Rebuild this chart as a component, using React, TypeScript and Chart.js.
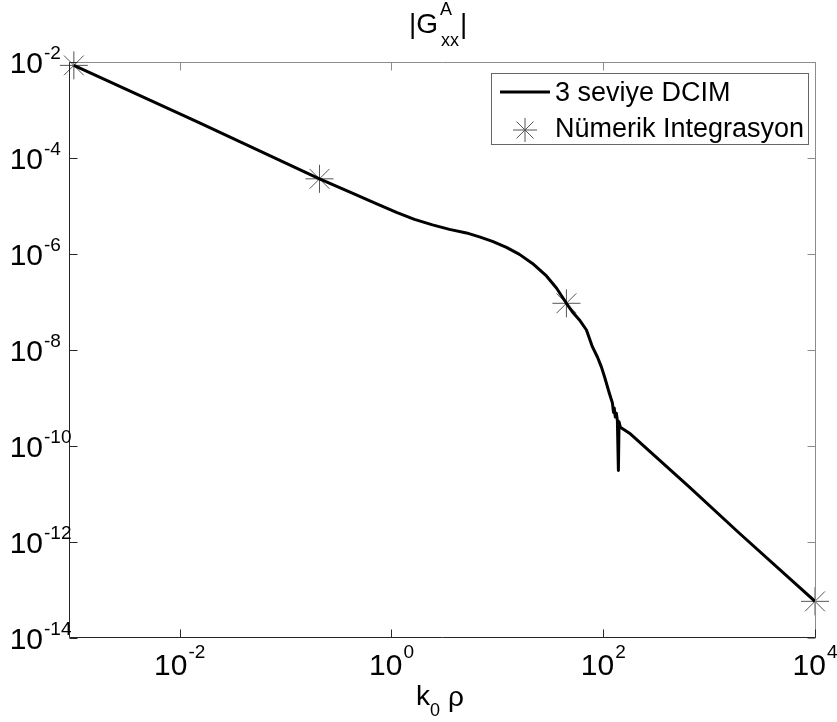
import React, { useEffect, useRef } from 'react';
import { Chart, registerables } from 'chart.js';

Chart.register(...registerables);

// ---- data ----
const dcimX = [
  1e-3, 0.0154, 0.209, 0.401, 0.691, 1.115, 1.649, 2.439, 3.529, 5.108,
  6.776, 8.989, 12.19, 16.17, 21.45, 29.08, 36.14, 44.9, 51.2, 59.6, 69.4,
  79.1, 88.1, 96.2, 103, 107, 114, 122, 125, 127, 130, 133, 136, 139, 141,
  145, 177, 652, 1932, 1e4,
];
const dcimY = [
  8.5e-3, 5.4e-4, 3.68e-5, 1.97e-5, 1.16e-5, 7.38e-6, 5.27e-6, 4.05e-6,
  3.26e-6, 2.75e-6, 2.27e-6, 1.83e-6, 1.37e-6, 9.82e-7, 6.37e-7, 3.49e-7,
  1.96e-7, 9.4e-8, 6.19e-8, 4.24e-8, 2.61e-8, 1.16e-8, 7.15e-9, 4.4e-9,
  2.73e-9, 2.05e-9, 1.27e-9, 7.9e-10, 5.0e-10, 6.2e-10, 4.0e-10, 4.8e-10,
  3.4e-10, 3.1e-11, 3.2e-10, 2.47e-10, 1.85e-10, 1.39e-11, 1.52e-12, 5.8e-14,
];
const numX = [1e-3, 0.209, 44.9, 1e4];
const numY = [8.5e-3, 3.68e-5, 9.4e-8, 5.8e-14];

const seriesLabels = ['3 seviye DCIM', 'Nümerik Integrasyon'];
const xTickExps = [-2, 0, 2, 4];
const yTickExps = [-14, -12, -10, -8, -6, -4, -2];
const xMin = 9e-4;
const xMax = 1e4;
const yMin = 1e-14;
const yMax = 1e-2;

const FONT = '"Liberation Sans", Arial, Helvetica, sans-serif';
const TICK = `30px ${FONT}`;
const TICK_EXP = `19px ${FONT}`;
const BIG = `28px ${FONT}`;
const SMALL = `18px ${FONT}`;
const LEG = `27px ${FONT}`;

function drawAsterisk(ctx: CanvasRenderingContext2D, x: number, y: number, r: number) {
  const d = r * Math.SQRT1_2;
  ctx.beginPath();
  ctx.moveTo(x - r, y); ctx.lineTo(x + r, y);
  ctx.moveTo(x, y - r); ctx.lineTo(x, y + r);
  ctx.moveTo(x - d, y - d); ctx.lineTo(x + d, y + d);
  ctx.moveTo(x - d, y + d); ctx.lineTo(x + d, y - d);
  ctx.stroke();
}

const decorPlugin = {
  id: 'matlabDecor',
  afterDatasetsDraw(chart: any) {
    const ctx: CanvasRenderingContext2D = chart.ctx;
    const { left, right, top, bottom } = chart.chartArea;
    const xs = chart.scales.x;
    const ys = chart.scales.y;
    const dark = '#262626';
    const light = '#8c8c8c';
    const TL = 8;
    ctx.save();
    ctx.lineWidth = 1;
    ctx.lineCap = 'butt';

    // box: top / right lighter, left / bottom darker
    const L = Math.round(left) + 0.5;
    const R = Math.round(right) + 0.5;
    const T = Math.round(top) + 0.5;
    const B = Math.round(bottom) - 0.5;
    ctx.strokeStyle = light;
    ctx.beginPath();
    ctx.moveTo(L, T); ctx.lineTo(R, T); ctx.lineTo(R, B);
    ctx.stroke();
    ctx.strokeStyle = dark;
    ctx.beginPath();
    ctx.moveTo(L, T); ctx.lineTo(L, B); ctx.lineTo(R, B);
    ctx.stroke();

    // x ticks
    for (const e of xTickExps) {
      const px = Math.round(xs.getPixelForValue(Math.pow(10, e))) + 0.5;
      ctx.strokeStyle = dark;
      ctx.beginPath(); ctx.moveTo(px, B); ctx.lineTo(px, B - TL); ctx.stroke();
      ctx.strokeStyle = light;
      ctx.beginPath(); ctx.moveTo(px, T); ctx.lineTo(px, T + TL); ctx.stroke();
    }
    // y ticks
    for (const e of yTickExps) {
      const py = Math.round(ys.getPixelForValue(Math.pow(10, e))) + 0.5;
      ctx.strokeStyle = dark;
      ctx.beginPath(); ctx.moveTo(L, py); ctx.lineTo(L + TL, py); ctx.stroke();
      ctx.strokeStyle = light;
      ctx.beginPath(); ctx.moveTo(R, py); ctx.lineTo(R - TL, py); ctx.stroke();
    }

    ctx.fillStyle = '#000';
    ctx.textBaseline = 'alphabetic';

    // x tick labels
    for (const e of xTickExps) {
      const px = xs.getPixelForValue(Math.pow(10, e));
      const base = '10';
      const ex = String(e);
      ctx.font = TICK;
      const w1 = ctx.measureText(base).width;
      ctx.font = TICK_EXP;
      const w2 = ctx.measureText(ex).width;
      const start = px - (w1 + 1 + w2) / 2;
      ctx.textAlign = 'left';
      ctx.font = TICK;
      ctx.fillText(base, start, bottom + 37);
      ctx.font = TICK_EXP;
      ctx.fillText(ex, start + w1 + 1, bottom + 20);
    }
    // y tick labels
    for (const e of yTickExps) {
      const py = ys.getPixelForValue(Math.pow(10, e));
      ctx.font = TICK;
      ctx.textAlign = 'right';
      ctx.fillText('10', 43, py + 11);
      ctx.font = TICK_EXP;
      ctx.textAlign = 'left';
      ctx.fillText(String(e), 44, py - 3);
    }

    // title |G^A_xx|
    const cx = (left + right) / 2;
    ctx.textAlign = 'left';
    ctx.font = BIG;
    ctx.fillText('|G', cx - 33, 33);
    const wG = ctx.measureText('|G').width;
    ctx.font = SMALL;
    ctx.fillText('A', cx - 33 + wG + 2, 15);
    ctx.fillText('xx', cx - 33 + wG + 3, 46);
    const wxx = ctx.measureText('xx').width;
    ctx.font = BIG;
    ctx.fillText('|', cx - 33 + wG + 3 + wxx + 1, 33);

    // x label k_0 rho
    ctx.font = BIG;
    ctx.fillText('k', cx - 26, 705);
    ctx.font = SMALL;
    ctx.fillText('0', cx - 12, 716);
    ctx.font = BIG;
    ctx.fillText('ρ', cx + 6, 706);

    // legend
    const lx = 491.5, ly = 73.5, lw = 317, lh = 71;
    ctx.fillStyle = '#fff';
    ctx.fillRect(lx, ly, lw, lh);
    ctx.strokeStyle = '#666';
    ctx.lineWidth = 1;
    ctx.strokeRect(lx, ly, lw, lh);
    const ds = chart.data.datasets;
    ctx.strokeStyle = '#000';
    ctx.lineWidth = 3;
    ctx.beginPath(); ctx.moveTo(500, 92); ctx.lineTo(550, 92); ctx.stroke();
    ctx.strokeStyle = '#555';
    ctx.lineWidth = 1;
    drawAsterisk(ctx, 525, 130, 12);
    ctx.fillStyle = '#000';
    ctx.font = LEG;
    ctx.textAlign = 'left';
    ctx.fillText(ds[0].label, 555, 101);
    ctx.fillText(ds[1].label, 555, 137);
    ctx.restore();
  },
};

export default function App() {
  const canvasRef = useRef<HTMLCanvasElement | null>(null);

  useEffect(() => {
    document.body.style.margin = '0';
    const canvas = canvasRef.current;
    if (!canvas) return;
    const chart = new Chart(canvas, {
      type: 'line',
      data: {
        datasets: [
          {
            label: seriesLabels[0],
            data: dcimX.map((x, i) => ({ x, y: dcimY[i] })),
            borderColor: '#000',
            borderWidth: 3,
            pointRadius: 0,
            tension: 0,
            borderJoinStyle: 'round',
            fill: false,
          },
          {
            label: seriesLabels[1],
            data: numX.map((x, i) => ({ x, y: numY[i] })),
            showLine: false,
            pointStyle: 'star',
            pointRadius: 14,
            pointBorderColor: '#555',
            pointBackgroundColor: '#555',
            pointBorderWidth: 1,
            borderColor: '#555',
            clip: false,
          } as any,
        ],
      },
      options: {
        responsive: false,
        animation: false,
        devicePixelRatio: 1,
        layout: { padding: { left: 69, right: 22, top: 62, bottom: 84 } },
        plugins: {
          legend: { display: false },
          title: { display: false },
          tooltip: { enabled: false },
        },
        scales: {
          x: {
            type: 'logarithmic',
            min: xMin,
            max: xMax,
            ticks: { display: false },
            grid: { display: false },
            border: { display: false },
            afterFit: (s: any) => { s.height = 0; },
          },
          y: {
            type: 'logarithmic',
            min: yMin,
            max: yMax,
            ticks: { display: false },
            grid: { display: false },
            border: { display: false },
            afterFit: (s: any) => { s.width = 0; },
          },
        },
      },
      plugins: [decorPlugin],
    } as any);
    return () => chart.destroy();
  }, []);

  return (
    <div style={{ width: 837, height: 722, background: '#fff' }}>
      <canvas ref={canvasRef} width={837} height={722} style={{ display: 'block' }} />
    </div>
  );
}
